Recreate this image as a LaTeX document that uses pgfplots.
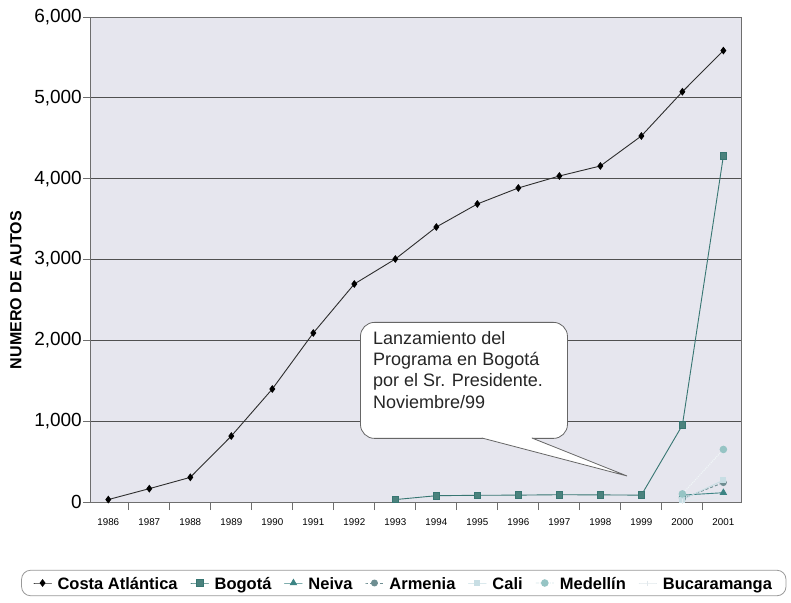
\documentclass[border=0pt]{standalone}
\usepackage{fontspec}
\setmainfont{Liberation Sans}
\usepackage{pgfplots}
\pgfplotsset{compat=1.18}
\definecolor{bgc}{RGB}{230,230,238}
\definecolor{gridc}{RGB}{80,80,80}
\definecolor{axc}{RGB}{110,110,110}
\definecolor{costa}{RGB}{45,45,45}
\definecolor{bogota}{RGB}{55,118,114}
\definecolor{bogotaf}{RGB}{75,130,125}
\definecolor{neiva}{RGB}{60,132,132}
\definecolor{armenia}{RGB}{110,142,146}
\definecolor{cali}{RGB}{200,222,228}
\definecolor{medellin}{RGB}{150,196,196}
\definecolor{medline}{RGB}{240,246,247}
\definecolor{bucara}{RGB}{225,232,236}
\begin{document}
\begin{tikzpicture}
\useasboundingbox (-90pt,-100pt) rectangle (701pt,502pt);
\begin{axis}[
  at={(0pt,0pt)}, anchor=south west,
  scale only axis, width=651pt, height=485pt,
  xmin=-0.446, xmax=15.43, ymin=0, ymax=6000,
  clip=false,
  axis background/.style={fill=bgc},
  xtick={0,...,15},
  xticklabels={1986,1987,1988,1989,1990,1991,1992,1993,1994,1995,1996,1997,1998,1999,2000,2001},
  minor xtick={0.5,1.5,2.5,3.5,4.5,5.5,6.5,7.5,8.5,9.5,10.5,11.5,12.5,13.5,14.5},
  ytick={0,1000,2000,3000,4000,5000,6000},
  tick pos=left,
  tick align=outside,
  major tick length=7pt,
  minor tick length=8pt,
  major x tick style={draw=none},
  minor x tick style={draw=axc, line width=0.8pt},
  major y tick style={draw=axc, line width=0.8pt},
  ymajorgrids,
  major grid style={draw=gridc, line width=1pt},
  axis line style={draw=axc, line width=0.8pt},
  /pgf/number format/assume math mode=true,
  yticklabel style={/pgf/number format/1000 sep={,}, font=\fontsize{19}{21}\selectfont, inner sep=1pt},
  xticklabel style={font=\fontsize{9.8}{11}\selectfont, yshift=-6pt},
  ylabel={NUMERO DE AUTOS},
  ylabel style={font=\bfseries\fontsize{16}{18}\selectfont, at={(axis description cs:-0.114,0.437)}, anchor=center},
  legend style={at={(axis description cs:0.482,-0.167)}, anchor=center, legend columns=7,
    rounded corners=9pt, draw=gray!80, line width=0.8pt,
    font=\bfseries\fontsize{16.5}{18}\selectfont, inner ysep=3pt, inner xsep=12pt,
    /tikz/every odd column/.append style={column sep=4pt},
    /tikz/every even column/.append style={column sep=11pt, text height=14pt, text depth=4pt}},
]
\addplot[costa, line width=0.9pt, mark=diamond*, mark size=3.2pt, mark options={fill=black, draw=black}] coordinates {
(0,30) (1,165) (2,305) (3,816) (4,1398) (5,2091) (6,2697) (7,3006) (8,3402) (9,3687) (10,3885) (11,4033) (12,4157) (13,4528) (14,5075) (15,5585)};
\addlegendentry{Costa Atlántica}
\addplot[bogota, line width=0.9pt, mark=square*, mark size=3.3pt, mark options={fill=bogotaf, draw=bogota}] coordinates {
(7,30) (8,78) (9,83) (10,85) (11,90) (12,88) (13,85) (14,950) (15,4280)};
\addlegendentry{Bogotá}
\addplot[neiva, line width=0.9pt, mark=triangle*, mark size=3.5pt, mark options={fill=neiva}] coordinates {
(14,85) (15,115)};
\addlegendentry{Neiva}
\addplot[armenia, line width=0.9pt, densely dashed, mark=*, mark size=3pt, mark options={solid, fill=armenia}] coordinates {
(14,40) (15,240)};
\addlegendentry{Armenia}
\addplot[cali, line width=0.9pt, mark=square*, mark size=2.5pt, mark options={fill=cali}] coordinates {
(14,30) (15,270)};
\addlegendentry{Cali}
\addplot[medline, line width=1.1pt, densely dotted, mark=*, mark size=3.2pt, mark options={solid, fill=medellin, draw=medellin}] coordinates {
(14,100) (15,650)};
\addlegendentry{Medellín}
\addplot[bucara, line width=0.9pt, mark=|, mark size=2.5pt] coordinates {
(14,10) (15,50)};
\addlegendentry{Bucaramanga}
% callout
\node[draw=gray!80!black, line width=0.8pt, fill=white, rounded corners=14pt, minimum width=207pt, minimum height=116pt, anchor=north west, inner sep=0pt] at (axis cs:6.14,2227) {};
\fill[white] (axis cs:9.17,860) -- (axis cs:9.11,792) -- (axis cs:12.65,322) -- (axis cs:10.33,792) -- (axis cs:10.27,860) -- cycle;
\draw[gray!80!black, line width=0.8pt] (axis cs:9.11,792) -- (axis cs:12.65,322) -- (axis cs:10.33,792);
\node[anchor=north west, align=left, inner sep=0pt, font=\fontsize{18}{21.3}\selectfont, text=black!85] at (axis cs:6.456,2115) {Lanzamiento del\\Programa en Bogotá\\por el Sr. Presidente.\\Noviembre/99};
\end{axis}
\end{tikzpicture}
\end{document}
